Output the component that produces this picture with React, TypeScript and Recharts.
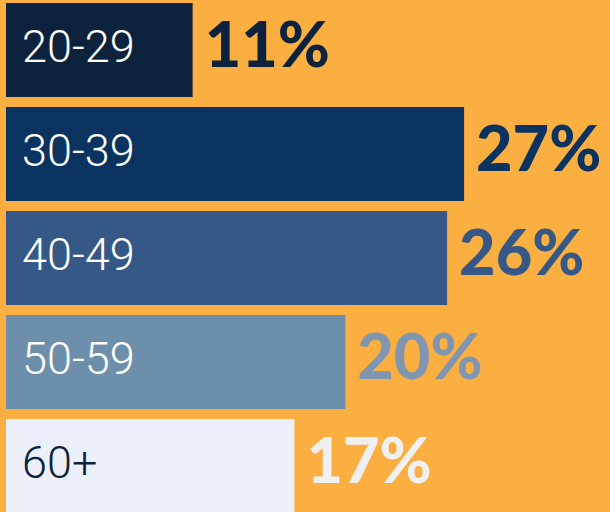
import React from "react";
import { BarChart, Bar, XAxis, YAxis } from "recharts";

const ageGroups = ["20-29", "30-39", "40-49", "50-59", "60+"];
const shares = [11, 27, 26, 20, 17];

const barColors = ["#0D223C", "#0B3360", "#355887", "#6E8FAB", "#ECF0FB"];
const valueColors = ["#0D223C", "#0B3360", "#355887", "#8096B0", "#F0F0F0"];
const nameColors = ["#FFFFFF", "#FFFFFF", "#FFFFFF", "#FFFFFF", "#0D223C"];

const data = ageGroups.map((name, i) => ({ name, share: shares[i] }));

// rect + the age label inside + the big percentage outside
function AgeBar(props: any) {
  const { x, y, width, height, index, payload } = props;
  const mid = y + height / 2;
  return (
    <g>
      <rect x={x} y={y} width={width} height={height} fill={barColors[index]} />
      <text
        x={x + 16}
        y={mid - 4}
        dominantBaseline="central"
        fill={nameColors[index]}
        fontFamily="'Roboto Light', Roboto, 'Open Sans', sans-serif"
        fontWeight={300}
        fontSize={45}
      >
        {payload.name}
      </text>
      <text
        x={x + width + 12}
        y={mid - 8}
        dominantBaseline="central"
        fill={valueColors[index]}
        fontFamily="Lato"
        fontWeight={900}
        fontSize={63}
      >
        {`${payload.share}%`}
      </text>
    </g>
  );
}

export default function App() {
  return (
    <div
      style={{
        position: "absolute",
        left: 0,
        top: 0,
        width: 610,
        height: 512,
        overflow: "hidden",
        background: "#FCAF41",
      }}
    >
      <div style={{ position: "absolute", left: 0, top: -2 }}>
        <BarChart
          layout="vertical"
          width={610}
          height={520}
          data={data}
          margin={{ top: 0, right: 0, bottom: 0, left: 6 }}
        >
          <XAxis type="number" domain={[0, 35.6]} hide />
          <YAxis type="category" dataKey="name" hide />
          <Bar
            dataKey="share"
            barSize={94}
            shape={AgeBar}
            isAnimationActive={false}
          />
        </BarChart>
      </div>
    </div>
  );
}
